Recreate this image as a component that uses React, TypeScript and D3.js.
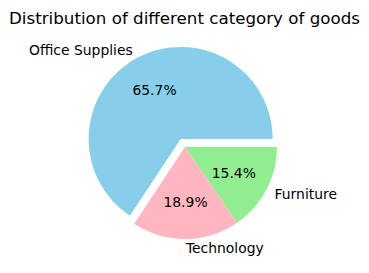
import React from "react";
import * as d3 from "d3";

const categories = ["Office Supplies", "Technology", "Furniture"];
const values = [65.7, 18.9, 15.4];
const colors = ["#87CEEB", "#FFB6C1", "#90EE90"];
const explode = [0.1, 0, 0];
const title = "Distribution of different category of goods";

export default function App() {
  const W = 369, H = 273;
  const cx = 185, cy = 147, r = 92;
  const font = "DejaVu Sans, sans-serif";
  const pie = d3.pie<number>().sort(null).startAngle(Math.PI / 2).endAngle(Math.PI / 2 - 2 * Math.PI);
  const arcs = pie(values);
  const arcGen = d3.arc<d3.PieArcDatum<number>>().innerRadius(0).outerRadius(r);
  const total = d3.sum(values);
  return (
    <svg width={W} height={H} style={{ position: "absolute", left: 0, top: 0 }} fontFamily={font}>
      <rect width={W} height={H} fill="#fff" />
      <text x={184.5} y={23.5} textAnchor="middle" fontSize={16.7} fill="#000">{title}</text>
      {arcs.map((a, i) => {
        const mid = (a.startAngle + a.endAngle) / 2; // d3 angle, clockwise from top
        const ux = Math.sin(mid), uy = -Math.cos(mid);
        const ox = cx + explode[i] * r * ux, oy = cy + explode[i] * r * uy;
        const lx = ox + 1.1 * r * ux, ly = oy + 1.1 * r * uy;
        const px = ox + 0.6 * r * ux, py = oy + 0.6 * r * uy;
        return (
          <g key={i}>
            <path d={arcGen(a) || ""} transform={`translate(${ox},${oy})`} fill={colors[i]} />
            <text x={lx} y={ly} dy="0.36em" textAnchor={ux > 0 ? "start" : "end"} fontSize={13.9} fill="#000">{categories[i]}</text>
            <text x={px} y={py} dy="0.36em" textAnchor="middle" fontSize={13.9} fill="#000">{((values[i] / total) * 100).toFixed(1)}%</text>
          </g>
        );
      })}
    </svg>
  );
}
